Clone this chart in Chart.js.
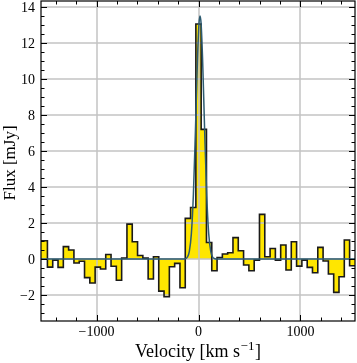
<!DOCTYPE html>
<html>
<head>
<meta charset="utf-8">
<script src="https://cdn.jsdelivr.net/npm/chart.js@4/dist/chart.umd.min.js"></script>
<style>
  html, body { margin: 0; padding: 0; background: #fff; }
  #wrap { width: 357px; height: 363px; }
</style>
</head>
<body>
<div id="wrap"><canvas id="spec"></canvas></div>
<script>
// channel centres (km/s) and flux density per channel (mJy)
const velocity = [
  -1560, -1508, -1456, -1404, -1352, -1300, -1248, -1196, -1144, -1092,
  -1040, -988, -936, -884, -832, -780, -728, -676, -624, -572,
  -520, -468, -416, -364, -312, -260, -208, -156, -104, -52,
  0, 52, 104, 156, 208, 260, 312, 364, 416, 468,
  520, 572, 624, 676, 728, 780, 832, 884, 936, 988,
  1040, 1092, 1144, 1196, 1248, 1300, 1352, 1404, 1456, 1508, 1560
];
const flux = [
  1.02, 1.02, -0.45, -0.06, -0.46, 0.69, 0.5, -0.22, -0.12, -1.03,
  -1.33, -0.45, -0.55, 0.25, -0.4, -1.18, 0.06, 1.94, 0.96, 0.2,
  0.05, -1.11, 0.13, -1.78, -2.09, -0.43, -0.24, -1.59, 2.26, 2.86,
  13.05, 7.2, 0.92, -0.65, 0.09, 0.28, 0.35, 1.19, 0.46, -0.33,
  -0.65, -0.06, 2.48, 0.13, 0.59, -0.06, 0.78, -0.61, 0.96, -0.39,
  -0.06, -0.46, -0.76, 0.65, -0.11, -0.83, -1.85, -0.98, 1.06, -0.37, -0.37
];

// gaussian fit
const fitVelocity = [-1545, -150, -130, -110, -90, -70, -50, -30, -10, 5, 15, 25, 40, 60, 80, 100, 120, 140, 160, 180, 1535];
const fitFlux     = [0, 0, 0.02, 0.1, 0.43, 1.41, 3.61, 7.17, 11.1, 13.1, 13.5, 13.1, 11.1, 7.17, 3.61, 1.41, 0.43, 0.1, 0.02, 0, 0];

const xTicks = [-1000, 0, 1000];
const yTicks = [-2, 0, 2, 4, 6, 8, 10, 12, 14];

const serif = "'Liberation Serif', 'Times New Roman', serif";
const fmt = v => v < 0 ? '\u2212' + Math.abs(v) : String(v);

const axesPlugin = {
  id: 'axesPlugin',
  // grid goes over the yellow fill but under the outlines
  afterDatasetDraw(chart, args) {
    if (args.index !== 0) return;
    const { ctx, chartArea: a, scales: { x, y } } = chart;
    ctx.save();
    ctx.strokeStyle = '#c4c4c4';
    ctx.lineWidth = 1.5;
    ctx.beginPath();
    xTicks.forEach(v => {
      const px = Math.round(x.getPixelForValue(v));
      ctx.moveTo(px, a.top); ctx.lineTo(px, a.bottom);
    });
    yTicks.forEach(v => {
      const py = Math.round(y.getPixelForValue(v));
      ctx.moveTo(a.left, py); ctx.lineTo(a.right, py);
    });
    ctx.stroke();
    ctx.restore();
  },
  afterDraw(chart) {
    const { ctx, chartArea: a, scales: { x, y } } = chart;
    ctx.save();

    // frame
    ctx.strokeStyle = '#000';
    ctx.lineWidth = 1.2;
    ctx.strokeRect(a.left, a.top, a.right - a.left, a.bottom - a.top);

    // inward ticks on all sides
    ctx.lineWidth = 1;
    ctx.beginPath();
    for (let v = Math.ceil(x.min / 200) * 200; v <= x.max; v += 200) {
      const px = Math.round(x.getPixelForValue(v)) + 0.5;
      const len = v % 1000 === 0 ? 6 : 3.5;
      ctx.moveTo(px, a.bottom); ctx.lineTo(px, a.bottom - len);
      ctx.moveTo(px, a.top); ctx.lineTo(px, a.top + len);
    }
    for (let v = Math.ceil(y.min * 2) / 2; v <= y.max; v += 0.5) {
      const py = Math.round(y.getPixelForValue(v)) + 0.5;
      const len = v % 2 === 0 ? 6 : 3.5;
      ctx.moveTo(a.left, py); ctx.lineTo(a.left + len, py);
      ctx.moveTo(a.right, py); ctx.lineTo(a.right - len, py);
    }
    ctx.stroke();

    // tick labels
    ctx.fillStyle = '#000';
    ctx.font = '14px ' + serif;
    ctx.textBaseline = 'alphabetic';
    ctx.textAlign = 'center';
    xTicks.forEach(v => ctx.fillText(fmt(v), x.getPixelForValue(v), a.bottom + 14.5));
    ctx.textAlign = 'right';
    yTicks.forEach(v => ctx.fillText(fmt(v), a.left - 6, y.getPixelForValue(v) + 4.8));

    // x title with superscript
    const big = '18px ' + serif, small = '13px ' + serif;
    const t1 = 'Velocity [km s', sup = '\u22121', t2 = ']';
    ctx.font = big;
    const w1 = ctx.measureText(t1).width, w2 = ctx.measureText(t2).width;
    ctx.font = small;
    const ws = ctx.measureText(sup).width;
    let cx = (a.left + a.right) / 2 - (w1 + ws + w2 + 1) / 2;
    const base = 357;
    ctx.textAlign = 'left';
    ctx.font = big; ctx.fillText(t1, cx, base); cx += w1 + 0.5;
    ctx.font = small; ctx.fillText(sup, cx, base - 7.5); cx += ws + 0.5;
    ctx.font = big; ctx.fillText(t2, cx, base);

    // y title
    ctx.translate(14.5, (a.top + a.bottom) / 2 + 2);
    ctx.rotate(-Math.PI / 2);
    ctx.textAlign = 'center';
    ctx.font = '17px ' + serif;
    ctx.fillText('Flux [mJy]', 0, 0);
    ctx.restore();
  }
};

const ctx = document.getElementById('spec').getContext('2d');
new Chart(ctx, {
  type: 'line',
  data: {
    datasets: [
      {
        // yellow fill of the spectrum
        data: velocity.map((v, i) => ({ x: v, y: flux[i] })),
        stepped: 'middle',
        fill: 'origin',
        backgroundColor: '#ffe600',
        borderWidth: 0,
        pointRadius: 0,
        clip: 0,
        order: 3
      },
      {
        // black outline of the spectrum
        data: velocity.map((v, i) => ({ x: v, y: flux[i] })),
        stepped: 'middle',
        fill: false,
        borderColor: '#1a1a1a',
        borderWidth: 1.6,
        pointRadius: 0,
        clip: 0,
        order: 2
      },
      {
        data: fitVelocity.map((v, i) => ({ x: v, y: fitFlux[i] })),
        fill: false,
        borderColor: '#2d5b70',
        borderWidth: 1.5,
        cubicInterpolationMode: 'monotone',
        pointRadius: 0,
        clip: 0,
        order: 1
      }
    ]
  },
  options: {
    responsive: true,
    maintainAspectRatio: false,
    animation: false,
    layout: { padding: { top: 1, right: 2, left: 0, bottom: 0 } },
    plugins: {
      legend: { display: false },
      tooltip: { enabled: false }
    },
    scales: {
      x: {
        type: 'linear',
        min: -1545,
        max: 1535,
        grid: { display: false },
        border: { display: false },
        ticks: { display: false },
        afterFit: s => { s.height = 42; }
      },
      y: {
        type: 'linear',
        min: -3.44,
        max: 14.33,
        grid: { display: false },
        border: { display: false },
        ticks: { display: false },
        afterFit: s => { s.width = 41; }
      }
    }
  },
  plugins: [axesPlugin]
});
</script>
</body>
</html>
